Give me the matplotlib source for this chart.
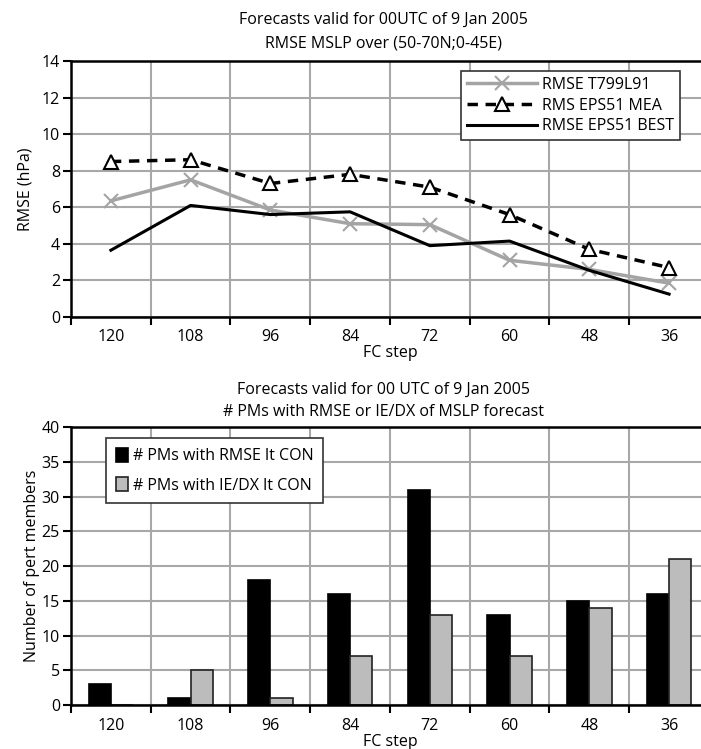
import matplotlib.pyplot as plt
import numpy as np

plt.rcParams['font.family'] = ['Open Sans', 'DejaVu Sans']

# --- data ---
steps = ['120', '108', '96', '84', '72', '60', '48', '36']
rmse_t799 = [6.35, 7.5, 5.85, 5.1, 5.05, 3.1, 2.6, 1.85]
rms_eps_mea = [8.5, 8.6, 7.3, 7.8, 7.1, 5.6, 3.7, 2.7]
rmse_eps_best = [3.65, 6.1, 5.6, 5.75, 3.9, 4.15, 2.55, 1.25]

pm_rmse = [3, 1, 18, 16, 31, 13, 15, 16]
pm_iedx = [0, 5, 1, 7, 13, 7, 14, 21]

x = np.arange(len(steps))
grid_c = '#a8a8a8'
fs = 11.5


def style_axis(ax, ymax, ystep):
    ax.set_xlim(-0.5, len(steps) - 0.5)
    ax.set_ylim(0, ymax)
    ax.set_yticks(np.arange(0, ymax + 0.1, ystep))
    # boundary ticks as major, labels on minor ticks
    ax.set_xticks(np.arange(-0.5, len(steps), 1.0))
    ax.set_xticklabels([])
    ax.set_xticks(x, minor=True)
    ax.set_xticklabels(steps, minor=True, fontsize=fs)
    ax.tick_params(axis='x', which='major', direction='out', length=6, width=1.5, color='black')
    ax.tick_params(axis='x', which='minor', length=0, pad=9)
    ax.tick_params(axis='y', direction='out', length=6, width=1.5, labelsize=fs, pad=2)
    ax.grid(True, which='major', color=grid_c, lw=1.5)
    ax.set_axisbelow(True)
    for s in ['left', 'bottom', 'top']:
        ax.spines[s].set_linewidth(1.8)
        ax.spines[s].set_color('black')
    ax.spines['right'].set_visible(False)
    ax.set_xlabel('FC step', fontsize=fs, labelpad=0)


fig = plt.figure(figsize=(7.01, 7.49), dpi=100)

# --- top chart ---
ax1 = fig.add_axes([0.1013, 0.5768, 0.910, 0.3418])
style_axis(ax1, 14, 2)
ax1.plot(x, rmse_t799, color='#a4a4a4', lw=2.5, marker='x', ms=10, mew=1.5,
         label='RMSE T799L91')
ax1.plot(x, rms_eps_mea, color='black', lw=2.5, ls=(0, (3, 2.2)), marker='^', ms=10,
         mfc='white', mec='black', mew=1.5, label='RMS EPS51 MEA')
ax1.plot(x, rmse_eps_best, color='black', lw=2.2, label='RMSE EPS51 BEST')
ax1.set_ylabel('RMSE (hPa)', fontsize=fs, labelpad=6)
ax1.set_title('Forecasts valid for 00UTC of 9 Jan 2005\nRMSE MSLP over (50-70N;0-45E)',
              fontsize=fs, pad=10, linespacing=1.6, x=0.49)
leg1 = ax1.legend(loc='upper left', bbox_to_anchor=(0.612, 0.96), fontsize=fs,
                  frameon=True, fancybox=False, edgecolor='#333333', framealpha=1,
                  handlelength=4.4, handletextpad=0.3, borderpad=0.35, labelspacing=0.3,
                  borderaxespad=0)
leg1.get_frame().set_linewidth(1.2)

# --- bottom chart ---
ax2 = fig.add_axes([0.1013, 0.0587, 0.910, 0.3712])
style_axis(ax2, 40, 5)
w = 0.28
ax2.bar(x - w / 2, pm_rmse, width=w, color='black', edgecolor='black', lw=1.2,
        label='# PMs with RMSE lt CON')
ax2.bar(x + w / 2, pm_iedx, width=w, color='#bcbcbc', edgecolor='#222222', lw=1.2,
        label='# PMs with IE/DX lt CON')
ax2.set_ylabel('Number of pert members', fontsize=fs, labelpad=1)
ax2.set_title('Forecasts valid for 00 UTC of 9 Jan 2005\n# PMs with RMSE or IE/DX of MSLP forecast',
              fontsize=fs, pad=8, linespacing=1.5, x=0.49)
leg2 = ax2.legend(loc='upper left', bbox_to_anchor=(0.055, 0.96), fontsize=fs,
                  frameon=True, fancybox=False, edgecolor='#333333', framealpha=1,
                  handlelength=0.8, handleheight=1.0, handletextpad=0.3,
                  borderpad=0.6, labelspacing=0.8, borderaxespad=0)
leg2.get_frame().set_linewidth(1.2)

fig.savefig('out.png', dpi=100, facecolor='white')
